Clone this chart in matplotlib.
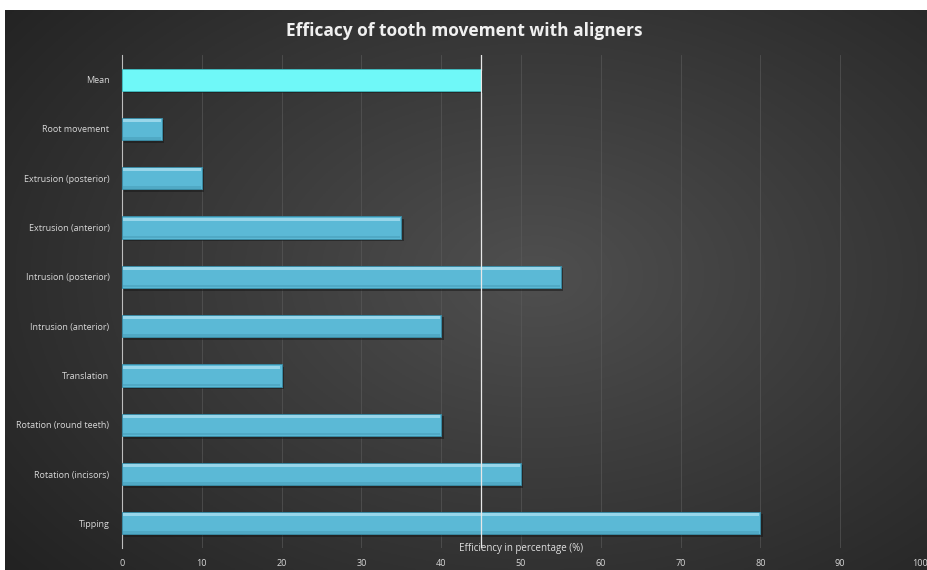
import numpy as np
import matplotlib
matplotlib.use('Agg')
import matplotlib.pyplot as plt

# Data (top to bottom)
categories = ['Mean', 'Root movement', 'Extrusion (posterior)', 'Extrusion (anterior)',
              'Intrusion (posterior)', 'Intrusion (anterior)', 'Translation',
              'Rotation (round teeth)', 'Rotation (incisors)', 'Tipping']
values = [45, 5, 10, 35, 55, 40, 20, 40, 50, 80]
mean_value = 45
xticks = list(range(0, 101, 10))

plt.rcParams['font.family'] = ['Open Sans', 'DejaVu Sans']

fig = plt.figure(figsize=(9.28, 5.70), dpi=100)
fig.patch.set_facecolor('white')

# dark radial background
bg = fig.add_axes([5 / 928, 0, 1 - 5 / 928, 1 - 10 / 570])
gx, gy = np.meshgrid(np.linspace(-1, 1, 400), np.linspace(-1, 1, 250))
r = np.sqrt(((gx - 0.15) / 1.1) ** 2 + ((gy + 0.05) / 1.2) ** 2)
shade = np.clip(0.31 - 0.13 * r, 0.13, 0.31)
bg.imshow(np.dstack([shade] * 3), aspect='auto', extent=[0, 1, 0, 1])
bg.axis('off')

ax = fig.add_axes([122 / 928, 1 - 548 / 570, (920 - 122) / 928, (548 - 55) / 570])
ax.patch.set_alpha(0)

y = np.arange(len(categories))
colors = ['#6ff8f8' if c == 'Mean' else '#5bb9d6' for c in categories]
edge = ['#3fb8bc' if c == 'Mean' else '#3a8aa3' for c in categories]

# shadow, body, highlight
ax.barh(y + 0.05, values, height=0.46, left=0.3, color='#181818', alpha=0.55, zorder=2)
ax.barh(y, values, height=0.45, color=colors, edgecolor=edge, linewidth=0.7, zorder=3)
for i, c in enumerate(categories):
    if c != 'Mean':
        ax.barh(y[i] - 0.17, values[i] - 0.3, left=0.15, height=0.06,
                color='#a8def0', alpha=0.8, linewidth=0, zorder=4)
        ax.barh(y[i] + 0.19, values[i] - 0.3, left=0.15, height=0.05,
                color='#4a9fba', alpha=0.6, linewidth=0, zorder=4)

ax.axvline(mean_value, color='#e8e8e8', linewidth=0.9, zorder=5)

ax.set_xlim(0, 100)
ax.set_ylim(len(categories) - 0.5, -0.5)
ax.set_xticks(xticks)
ax.set_yticks(y)
ax.set_yticklabels(categories)
ax.grid(axis='x', color='#5c5c5c', linewidth=0.6, alpha=0.7, zorder=0)
ax.tick_params(axis='both', length=0, colors='#d8d8d8', labelsize=6.5)
ax.tick_params(axis='x', pad=8)
ax.tick_params(axis='y', pad=9)
for s in ['top', 'right', 'bottom']:
    ax.spines[s].set_visible(False)
ax.spines['left'].set_color('#bdbdbd')
ax.spines['left'].set_linewidth(0.8)

ax.text(0.5, -0.002, 'Efficiency in percentage (%)', transform=ax.transAxes,
        ha='center', va='center', fontsize=7, color='#e0e0e0')

fig.text(0.5, 1 - 31 / 570, 'Efficacy of tooth movement with aligners', ha='center',
         va='center', fontsize=12.5, fontweight='bold', color='#f0f0f0')

plt.savefig('out.png', dpi=100)
plt.close()
